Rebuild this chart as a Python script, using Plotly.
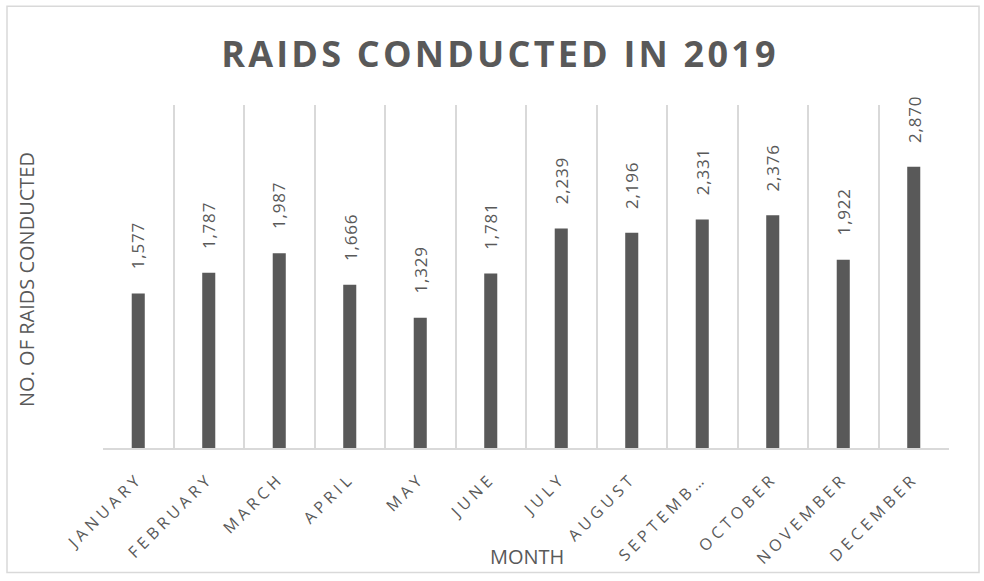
import plotly.graph_objects as go

months = ["JANUARY", "FEBRUARY", "MARCH", "APRIL", "MAY", "JUNE", "JULY",
          "AUGUST", "SEPTEMBER", "OCTOBER", "NOVEMBER", "DECEMBER"]
tick_labels = ["JANUARY", "FEBRUARY", "MARCH", "APRIL", "MAY", "JUNE", "JULY",
               "AUGUST", "SEPTEMB…", "OCTOBER", "NOVEMBER", "DECEMBER"]
raids = [1577, 1787, 1987, 1666, 1329, 1781, 2239, 2196, 2331, 2376, 1922, 2870]

GRAY = "#595959"
LIGHT = "#d9d9d9"
FONT = "Open Sans"

W, H = 984, 581
ML, MR, MT, MB = 103, 35, 105, 129
PW, PH = W - ML - MR, H - MT - MB


def px_to_paper_x(px):
    return (px - ML) / PW


def px_to_paper_y(py):
    return (H - MB - py) / PH


def spaced(t, s):
    return f'<span style="letter-spacing:{s}px">{t}</span>'


fig = go.Figure()
fig.add_trace(go.Bar(
    x=months, y=raids, width=0.185,
    marker=dict(color=GRAY, line=dict(width=0)),
    hoverinfo="x+y",
))

annotations = []
for m, v in zip(months, raids):
    annotations.append(dict(
        x=m, y=v, xref="x", yref="y", text=spaced(f"{v:,}", 0.8),
        textangle=-90, showarrow=False, yanchor="bottom", xanchor="center",
        yshift=22, font=dict(family=FONT, size=17, color=GRAY),
    ))

annotations.append(dict(
    x=px_to_paper_x(27), y=px_to_paper_y(282), xref="paper", yref="paper",
    text="NO. OF RAIDS CONDUCTED", textangle=-90, showarrow=False,
    xanchor="center", yanchor="middle",
    font=dict(family=FONT, size=20, color=GRAY),
))
annotations.append(dict(
    x=px_to_paper_x(527), y=px_to_paper_y(562), xref="paper", yref="paper",
    text="MONTH", showarrow=False, xanchor="center", yanchor="middle",
    font=dict(family=FONT, size=20, color=GRAY),
))

fig.update_layout(
    width=W, height=H,
    margin=dict(l=ML, r=MR, t=MT, b=MB, pad=0),
    paper_bgcolor="white", plot_bgcolor="white",
    showlegend=False,
    title=dict(
        text=spaced("<b>RAIDS CONDUCTED IN 2019</b>", 3.2),
        x=500 / W, xref="container", xanchor="center",
        y=1 - 54 / H, yref="container", yanchor="middle",
        font=dict(family=FONT, size=36, color=GRAY),
    ),
    xaxis=dict(
        type="category", tickmode="array", tickvals=months,
        ticktext=[spaced(t, 4.3) for t in tick_labels],
        tickangle=-45, tickson="boundaries", ticks="",
        ticklabelstandoff=13,
        tickfont=dict(family=FONT, size=16, color=GRAY),
        showgrid=True, gridcolor=LIGHT, gridwidth=1.5,
        showline=True, linecolor=LIGHT, linewidth=1.5,
        range=[-0.5, 11.5], fixedrange=True,
    ),
    yaxis=dict(
        range=[0, 3500], showgrid=False, zeroline=False,
        showticklabels=False, ticks="", showline=False, fixedrange=True,
    ),
    annotations=annotations,
    shapes=[dict(
        type="rect", xref="paper", yref="paper",
        x0=px_to_paper_x(7), x1=px_to_paper_x(979),
        y0=px_to_paper_y(578), y1=px_to_paper_y(5),
        line=dict(color=LIGHT, width=1.5), fillcolor="rgba(0,0,0,0)",
        layer="below",
    )],
)

fig.write_html(
    "out.html",
    config={"displayModeBar": False},
    post_script="document.body.style.margin='0';document.body.style.overflow='hidden';",
)
